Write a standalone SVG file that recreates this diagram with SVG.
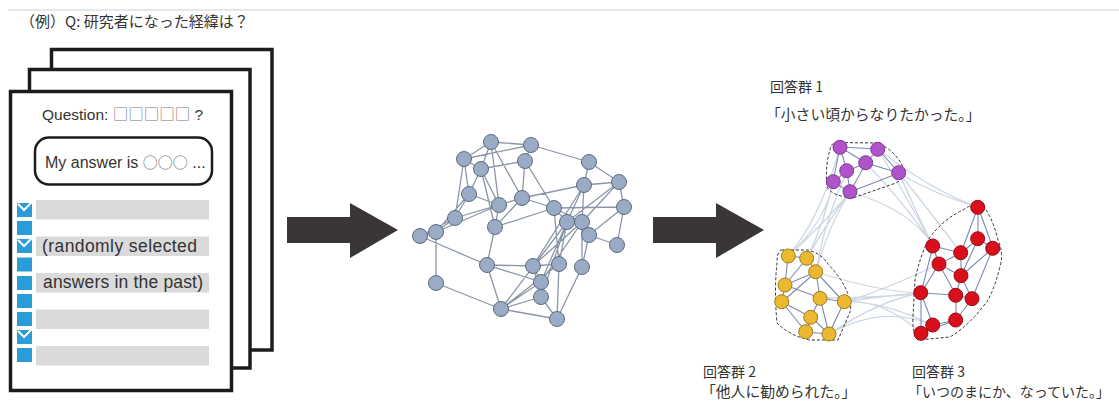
<svg xmlns="http://www.w3.org/2000/svg" width="1119" height="405" viewBox="0 0 1119 405">
<style>
.page{fill:#fff;stroke:#1c1c1c;stroke-width:3.5}
.row{fill:#dadada}
.sq{fill:#2a9dd8}
.chk{fill:none;stroke:#fff;stroke-width:2}
.lat{font-family:"Liberation Sans","Noto Sans CJK JP",sans-serif;fill:#333}
.cjk{font-family:"Noto Sans CJK JP",sans-serif}
.jp{font-family:"Noto Sans CJK JP",sans-serif;fill:#333}
.big{fill:#3a3636}
.e{stroke:#8a96a8;stroke-width:1.3;fill:none}
.n{fill:#9aabc5;stroke:#5d6b80;stroke-width:1}
.ce{stroke:#7b8bad;stroke-width:1.1;fill:none}
.b{stroke:#c6d0de;stroke-width:1.3;fill:none;opacity:0.85}
.hull{fill:none;stroke:#333;stroke-width:1;stroke-dasharray:3 2}
.pu{fill:#b052c9;stroke:#7f3a97;stroke-width:1}
.ye{fill:#eab92f;stroke:#a07c1f;stroke-width:1}
.re{fill:#d8101c;stroke:#9a0a12;stroke-width:1}
</style>
<line x1="8" y1="10" x2="1119" y2="10" stroke="#cfcfcf" stroke-width="1"/>
<text id="header" class="jp" x="20" y="27" font-size="15">（例）Q: 研究者になった経緯は？</text>

<g id="page-back"><rect class="page" x="51.5" y="49.5" width="220.5" height="300.5"/></g>
<g id="page-middle"><rect class="page" x="29.5" y="69.5" width="220.5" height="298.5"/></g>
<g id="page-front">
<rect class="page" x="10.5" y="91.5" width="221" height="299"/>
<text class="lat" x="42" y="120" font-size="15.5">Question: <tspan class="cjk" fill="#777">□□□□□</tspan> ?</text>
<rect x="35" y="137.5" width="177" height="47" rx="14" fill="#fff" stroke="#1c1c1c" stroke-width="2.5"/>
<text class="lat" x="45" y="168" font-size="16">My answer is <tspan class="cjk" fill="#777" font-size="15">○○○</tspan> ...</text>
<rect class="row" x="36" y="200" width="173" height="19.5"/>
<rect class="row" x="36" y="236.5" width="173" height="19.5"/>
<rect class="row" x="36" y="273" width="173" height="19.5"/>
<rect class="row" x="36" y="309.5" width="173" height="19.5"/>
<rect class="row" x="36" y="346" width="173" height="19.5"/>
<rect class="sq" x="17" y="203" width="15" height="14"/>
<rect class="sq" x="17" y="221" width="15" height="14"/>
<rect class="sq" x="17" y="239" width="15" height="14"/>
<rect class="sq" x="17" y="257.5" width="15" height="14"/>
<rect class="sq" x="17" y="276" width="15" height="14"/>
<rect class="sq" x="17" y="294" width="15" height="14"/>
<rect class="sq" x="17" y="312" width="15" height="14"/>
<rect class="sq" x="17" y="330" width="15" height="14"/>
<rect class="sq" x="17" y="348" width="15" height="14"/>
<polyline class="chk" points="18,204 24,210 32,202"/>
<polyline class="chk" points="18,240 24,246 32,238"/>
<polyline class="chk" points="18,331 24,337 32,329"/>
<text class="lat" x="42" y="252" font-size="17.5" textLength="155">(randomly selected</text>
<text class="lat" x="43" y="288" font-size="17.5" textLength="160">answers in the past)</text>
</g>

<g id="arrow-1"><polygon class="big" points="287,217 350,217 350,203 398,230 350,258 350,243 287,243"/></g>
<g id="arrow-2"><polygon class="big" points="653,217 716,217 716,203 764,230 716,258 716,243 653,243"/></g>

<g id="network-edges">
<path class="e" d="M491,142L531,145 M491,142L464,159 M491,142L481,169 M491,142L499,205 M491,142L522,198 M464,159L531,145 M531,145L525,161 M531,145L589,162 M464,159L481,169 M464,159L469,194 M464,159L455,218 M481,169L525,161 M481,169L469,194 M481,169L499,205 M481,169L495,227 M525,161L522,198 M525,161L554,208 M589,162L584,185 M589,162L619,182 M584,185L619,182 M584,185L522,198 M584,185L567,222 M584,185L533,266 M584,185L582,222 M619,182L624,207 M619,182L582,222 M619,182L567,222 M624,207L554,208 M624,207L589,235 M624,207L617,245 M554,208L522,198 M554,208L567,222 M554,208L582,222 M554,208L559,264 M522,198L499,205 M522,198L455,218 M522,198L495,227 M469,194L499,205 M469,194L455,218 M469,194L436,232 M499,205L455,218 M499,205L436,232 M499,205L495,227 M455,218L436,232 M455,218L420,236 M436,232L420,236 M436,232L436,283 M420,236L487,265 M495,227L487,265 M495,227L554,208 M487,265L533,266 M487,265L501,309 M487,265L541,282 M436,283L501,309 M501,309L541,282 M501,309L541,297 M501,309L567,222 M501,309L559,264 M501,309L557,319 M541,282L567,222 M541,282L582,222 M541,282L533,266 M541,297L557,319 M541,297L567,222 M541,297L533,266 M559,264L557,319 M559,264L567,222 M559,264L533,266 M582,267L557,319 M582,267L589,235 M582,267L582,222 M589,235L617,245 M582,222L589,235 M533,266L582,222"/>
</g>
<g id="network-nodes">
<circle class="n" cx="491" cy="142" r="7.5"/><circle class="n" cx="531" cy="145" r="7.5"/>
<circle class="n" cx="464" cy="159" r="7.5"/><circle class="n" cx="481" cy="169" r="7.5"/>
<circle class="n" cx="525" cy="161" r="7.5"/><circle class="n" cx="589" cy="162" r="7.5"/>
<circle class="n" cx="469" cy="194" r="7.5"/><circle class="n" cx="499" cy="205" r="7.5"/>
<circle class="n" cx="522" cy="198" r="7.5"/><circle class="n" cx="584" cy="185" r="7.5"/>
<circle class="n" cx="619" cy="182" r="7.5"/><circle class="n" cx="624" cy="207" r="7.5"/>
<circle class="n" cx="554" cy="208" r="7.5"/><circle class="n" cx="455" cy="218" r="7.5"/>
<circle class="n" cx="436" cy="232" r="7.5"/><circle class="n" cx="420" cy="236" r="7.5"/>
<circle class="n" cx="495" cy="227" r="7.5"/><circle class="n" cx="567" cy="222" r="7.5"/>
<circle class="n" cx="582" cy="222" r="7.5"/><circle class="n" cx="589" cy="235" r="7.5"/>
<circle class="n" cx="617" cy="245" r="7.5"/><circle class="n" cx="487" cy="265" r="7.5"/>
<circle class="n" cx="533" cy="266" r="7.5"/><circle class="n" cx="559" cy="264" r="7.5"/>
<circle class="n" cx="582" cy="267" r="7.5"/><circle class="n" cx="436" cy="283" r="7.5"/>
<circle class="n" cx="541" cy="282" r="7.5"/><circle class="n" cx="541" cy="297" r="7.5"/>
<circle class="n" cx="501" cy="309" r="7.5"/><circle class="n" cx="557" cy="319" r="7.5"/>
</g>

<g id="bundles">
<path class="b" d="M833,182Q826,222 788,256 M850,192Q826,224 807,258 M847,171Q824,222 816,272 M850,192Q822,226 788,256 M833,182Q824,224 807,258 M850,192Q828,226 816,272 M840,147Q820,220 788,256"/>
<path class="b" d="M899,173Q916,212 933,246 M899,173Q918,214 939,264 M878,149Q914,210 933,246 M866,163Q912,212 933,246 M899,173Q935,195 978,207 M878,149Q930,190 978,207 M899,173Q925,205 961,253 M850,192Q912,210 933,246"/>
<path class="b" d="M844,302Q880,296 921,293 M844,302Q880,300 933,325 M820,298Q880,298 921,293 M829,334Q880,300 921,293 M816,272Q880,292 921,293 M844,302Q882,298 921,333 M844,302Q880,292 939,264 M829,334Q882,304 933,325"/>
</g>

<g id="group-1">
<path class="hull" d="M835,142.5L878,143Q898,152 905,172Q903,181 893,184L853,198Q832,196 827,187Q825,165 830,150Q831,144 835,142.5Z"/>
<path class="ce" d="M840,147L878,149 M840,147L847,171 M840,147L833,182 M878,149L866,163 M878,149L899,173 M866,163L847,171 M866,163L899,173 M866,163L850,192 M847,171L833,182 M847,171L850,192 M833,182L850,192 M850,192L899,173 M840,147L866,163"/>
<circle class="pu" cx="840" cy="147.3" r="7"/><circle class="pu" cx="877.7" cy="149.3" r="7"/>
<circle class="pu" cx="865.7" cy="162.7" r="7"/><circle class="pu" cx="846.7" cy="170.7" r="7"/>
<circle class="pu" cx="898.7" cy="172.7" r="7"/><circle class="pu" cx="833.3" cy="181.7" r="7"/>
<circle class="pu" cx="850" cy="191.7" r="7"/>
<text class="jp" x="770" y="92" font-size="14">回答群 1</text>
<text class="jp" x="766" y="120" font-size="14.8">「小さい頃からなりたかった。」</text>
</g>

<g id="group-2">
<path class="hull" d="M781,250L808,250Q822,254 828,264Q843,280 848,294Q852,306 850,312L838,340L810,340Q790,336 777,323Q774,290 777,263Q777,252 781,250Z"/>
<path class="ce" d="M788,256L807,258 M788,256L785,285 M807,258L816,272 M816,272L785,285 M816,272L820,298 M816,272L844,302 M785,285L782,302 M785,285L820,298 M782,302L811,317 M782,302L806,332 M820,298L811,317 M820,298L844,302 M844,302L829,334 M811,317L806,332 M811,317L829,334 M806,332L829,334 M807,258L785,285 M820,298L829,334 M816,272L782,302"/>
<circle class="ye" cx="788.3" cy="256" r="7"/><circle class="ye" cx="806.7" cy="258.3" r="7"/>
<circle class="ye" cx="815.7" cy="271.7" r="7"/><circle class="ye" cx="785" cy="285" r="7"/>
<circle class="ye" cx="781.7" cy="301.7" r="7"/><circle class="ye" cx="820" cy="298.3" r="7"/>
<circle class="ye" cx="844.3" cy="301.7" r="7"/><circle class="ye" cx="810.7" cy="317.3" r="7"/>
<circle class="ye" cx="805.7" cy="331.7" r="7"/><circle class="ye" cx="829" cy="334" r="7"/>
<text class="jp" x="703" y="377" font-size="14">回答群 2</text>
<text class="jp" x="701" y="397" font-size="14.8">「他人に勧められた。」</text>
</g>

<g id="group-3">
<path class="hull" d="M980,202Q992,215 998,240Q1003,252 1001,262Q996,285 988,300Q970,325 950,337L918,340Q912,332 913,317L915,280Q920,255 930,237Q945,218 963,210Q972,204 980,202Z"/>
<path class="ce" d="M978,207L978,239 M978,207L961,253 M978,207L993,248 M978,239L993,248 M978,239L961,253 M978,239L961,276 M933,246L961,253 M933,246L939,264 M961,253L939,264 M961,253L961,276 M993,248L961,276 M993,248L972,299 M939,264L961,276 M939,264L921,293 M961,276L956,295 M961,276L972,299 M921,293L956,295 M921,293L933,325 M921,293L921,333 M956,295L972,299 M956,295L956,320 M972,299L956,320 M956,320L933,325 M933,325L921,333 M956,320L921,333 M939,264L956,295 M933,246L921,293"/>
<circle class="re" cx="977.7" cy="207.3" r="7"/><circle class="re" cx="977.7" cy="238.7" r="7"/>
<circle class="re" cx="992.7" cy="248.3" r="7"/><circle class="re" cx="932.7" cy="246" r="7"/>
<circle class="re" cx="960.7" cy="252.7" r="7"/><circle class="re" cx="939" cy="264" r="7"/>
<circle class="re" cx="961" cy="275.7" r="7"/><circle class="re" cx="920.7" cy="292.7" r="7"/>
<circle class="re" cx="955.7" cy="295.3" r="7"/><circle class="re" cx="972" cy="298.7" r="7"/>
<circle class="re" cx="955.7" cy="320" r="7"/><circle class="re" cx="932.7" cy="325" r="7"/>
<circle class="re" cx="921" cy="333.3" r="7"/>
<text class="jp" x="912" y="377" font-size="14">回答群 3</text>
<text class="jp" x="908" y="397" font-size="14">「いつのまにか、なっていた。」</text>
</g>
</svg>
